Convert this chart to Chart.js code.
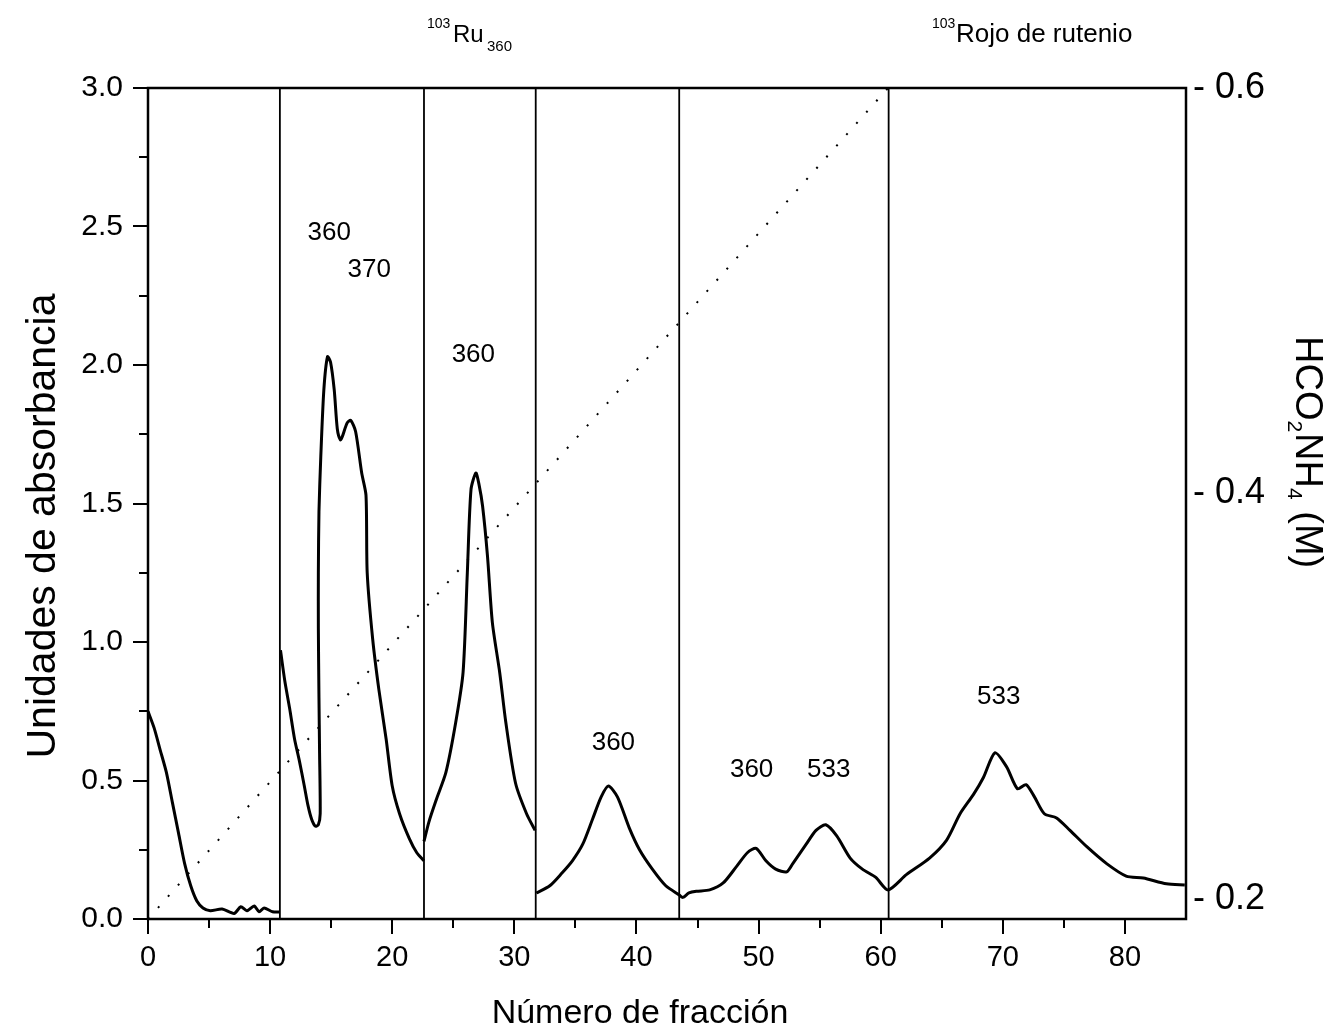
<!DOCTYPE html>
<html><head><meta charset="utf-8">
<script src="https://cdn.jsdelivr.net/npm/chart.js@4/dist/chart.umd.min.js"></script>
<style>html,body{margin:0;padding:0;background:#fff}#wrap{width:1334px;height:1035px;position:relative}</style>
</head><body><div id="wrap"><canvas id="c" width="1334" height="1035"></canvas></div>
<script>
// Fraction numbers and absorbance (null = break in the trace)
const fractionX = [
  0,0.5,1.0,1.5,2.0,2.5,3.0,3.5,4.0,4.5,5.1,6.07,7.05,7.6,8.1,8.7,9.1,9.5,10.2,10.8,
  null,
  10.85,11.2,11.6,12.0,12.4,12.8,13.1,13.4,13.7,13.95,14.1,14.05,14.0,13.95,13.95,14.0,14.15,14.4,14.7,14.95,15.25,15.5,15.75,15.9,16.3,16.6,17.0,17.5,17.85,17.95,18.4,18.9,19.5,20.0,20.6,21.4,22.0,22.6,
  null,
  22.6,23.0,23.6,24.4,25.2,25.8,26.15,26.45,26.85,27.1,27.4,27.8,28.2,28.8,29.3,30.1,31.0,31.7,
  null,
  31.8,32.9,33.9,34.75,35.6,36.4,37.1,37.7,38.45,39.4,40.25,41.3,42.4,43.5,43.8,44.3,44.9,46.0,47.1,48.2,49.1,49.8,50.6,51.4,52.3,52.8,53.9,54.7,55.5,56.4,57.5,58.5,59.6,60.6,
  62.1,64.0,65.4,66.5,67.6,68.4,69.35,70.3,71.2,71.9,72.6,73.4,74.4,75.5,76.9,78.5,80.1,81.5,83.4,84.9
];
const absorbance = [
  0.75,0.69,0.61,0.53,0.42,0.31,0.20,0.12,0.065,0.04,0.03,0.036,0.02,0.044,0.03,0.047,0.026,0.04,0.026,0.025,
  null,
  0.97,0.86,0.76,0.65,0.57,0.48,0.41,0.36,0.335,0.34,0.38,0.6,0.8,1.05,1.25,1.47,1.67,1.91,2.03,2.01,1.91,1.77,1.73,1.74,1.79,1.80,1.76,1.61,1.53,1.25,1.01,0.83,0.65,0.48,0.38,0.29,0.24,0.21,
  null,
  0.28,0.35,0.43,0.53,0.71,0.89,1.25,1.55,1.61,1.57,1.49,1.31,1.07,0.89,0.71,0.49,0.38,0.32,
  null,
  0.094,0.12,0.166,0.21,0.27,0.36,0.44,0.48,0.44,0.33,0.25,0.18,0.12,0.087,0.078,0.094,0.10,0.105,0.13,0.19,0.24,0.255,0.21,0.18,0.17,0.20,0.27,0.32,0.34,0.30,0.22,0.18,0.15,0.105,
  0.16,0.22,0.285,0.38,0.45,0.51,0.60,0.55,0.47,0.485,0.44,0.38,0.365,0.32,0.26,0.20,0.155,0.148,0.127,0.123
];
// Fraction-change markers (vertical lines)
const markerFractions = [10.8, 22.6, 31.75, 43.5, 60.65];
// Ammonium formate gradient (right axis)
const gradientFraction = [0, 60.6];
const gradientMolar = [0.19, 0.6];
// Ticks
const xTicks = [0,10,20,30,40,50,60,70,80];
const xMinorTicks = [5,15,25,35,45,55,65,75];
const leftTicks = [0,0.5,1.0,1.5,2.0,2.5,3.0];
const leftMinorTicks = [0.25,0.75,1.25,1.75,2.25,2.75];
const rightTicks = [0.2,0.4,0.6];
// Peak wavelength labels
const peakLabels = ['360','370','360','360','360','533','533'];
const peakLabelX = [14.84,18.11,26.64,38.11,49.43,55.74,69.67];
const peakLabelY = [2.476,2.345,2.035,0.636,0.538,0.538,0.802];

const FONT = "'Liberation Sans', Arial, sans-serif";

const absData = fractionX.map((x,i)=> x===null ? {x:null,y:null} : {x:x,y:absorbance[i]});
const datasets = [
  {data:absData, borderColor:'#000', borderWidth:3, pointRadius:0, spanGaps:false, tension:0.25, yAxisID:'y', order:1},
  {data:gradientFraction.map((x,i)=>({x:x,y:gradientMolar[i]})), borderColor:'#000', borderWidth:2, borderDash:[2,13], pointRadius:0, yAxisID:'y2', order:2}
];
markerFractions.forEach(f=>{
  datasets.push({data:[{x:f,y:0},{x:f,y:3}], borderColor:'#000', borderWidth:1.8, pointRadius:0, yAxisID:'y', order:3});
});

const decor = {
  id:'decor',
  afterDraw(chart){
    const ctx = chart.ctx, a = chart.chartArea;
    const sx = chart.scales.x, sy = chart.scales.y;
    ctx.save();
    ctx.strokeStyle='#000'; ctx.fillStyle='#000';
    // frame
    ctx.lineWidth = 2.5;
    ctx.strokeRect(a.left, a.top, a.right-a.left, a.bottom-a.top);
    // minor ticks
    ctx.lineWidth = 2;
    ctx.beginPath();
    xMinorTicks.forEach(v=>{ const px=Math.round(sx.getPixelForValue(v)); ctx.moveTo(px,a.bottom); ctx.lineTo(px,a.bottom+9); });
    leftMinorTicks.forEach(v=>{ const py=Math.round(sy.getPixelForValue(v)); ctx.moveTo(a.left,py); ctx.lineTo(a.left-9,py); });
    ctx.stroke();
    // peak labels
    ctx.font = '26px '+FONT; ctx.textAlign='center'; ctx.textBaseline='middle';
    peakLabels.forEach((t,i)=>{ ctx.fillText(t, sx.getPixelForValue(peakLabelX[i]), sy.getPixelForValue(peakLabelY[i])); });
    // top labels
    ctx.textAlign='left'; ctx.textBaseline='alphabetic';
    ctx.font='14px '+FONT; ctx.fillText('103', 427, 28);
    ctx.font='24px '+FONT; ctx.fillText('Ru', 453, 42);
    ctx.font='15px '+FONT; ctx.fillText('360', 487, 51);
    ctx.font='14px '+FONT; ctx.fillText('103', 932, 28);
    ctx.font='26px '+FONT; ctx.fillText('Rojo de rutenio', 956, 42);
    // bottom title
    ctx.textAlign='center';
    ctx.font='34px '+FONT; ctx.fillText('Número de fracción', 640, 1023);
    // left title
    ctx.save(); ctx.translate(55, 526); ctx.rotate(-Math.PI/2);
    ctx.font='41px '+FONT; ctx.textAlign='center'; ctx.fillText('Unidades de absorbancia', 0, 0);
    ctx.restore();
    // right title (rotated clockwise), with subscripts
    ctx.save(); ctx.translate(1296, 336); ctx.rotate(Math.PI/2);
    ctx.textAlign='left';
    const parts = [['HCO',false],['2',true],['NH',false],['4',true],[' (M)',false]];
    let cx = 0;
    parts.forEach(([t,sub])=>{
      ctx.font = (sub?'21px ':'38px ')+FONT;
      ctx.fillText(t, cx, sub?8:0);
      cx += ctx.measureText(t).width + (sub?1:0);
    });
    ctx.restore();
    ctx.restore();
  }
};

new Chart(document.getElementById('c'), {
  type:'line',
  data:{datasets},
  options:{
    responsive:false, animation:false, devicePixelRatio:1,
    layout:{padding:{top:88,left:0,right:0,bottom:0}},
    plugins:{legend:{display:false}, tooltip:{enabled:false}},
    scales:{
      x:{type:'linear', position:'bottom', min:0, max:85,
        afterFit(s){ s.height = 116; },
        afterBuildTicks(s){ s.ticks = xTicks.map(v=>({value:v})); },
        ticks:{font:{family:FONT,size:29}, color:'#000', maxRotation:0, autoSkip:false, padding:7},
        grid:{display:true, drawOnChartArea:false, drawTicks:true, tickLength:15, lineWidth:2, color:'#000'},
        border:{display:false}},
      y:{type:'linear', position:'left', min:0, max:3,
        afterFit(s){ s.width = 148; },
        afterBuildTicks(s){ s.ticks = leftTicks.map(v=>({value:v})); },
        ticks:{font:{family:FONT,size:30}, color:'#000', padding:10, callback:v=>Number(v).toFixed(1)},
        grid:{display:true, drawOnChartArea:false, drawTicks:true, tickLength:15, lineWidth:2, color:'#000'},
        border:{display:false}},
      y2:{type:'linear', position:'right', min:0.19, max:0.6,
        afterFit(s){ s.width = 148; },
        afterBuildTicks(s){ s.ticks = rightTicks.map(v=>({value:v})); },
        ticks:{font:{family:FONT,size:36}, color:'#000', padding:7, callback:v=>'- '+Number(v).toFixed(1)},
        grid:{display:false, drawTicks:false},
        border:{display:false}}
    }
  },
  plugins:[decor]
});
</script></body></html>
